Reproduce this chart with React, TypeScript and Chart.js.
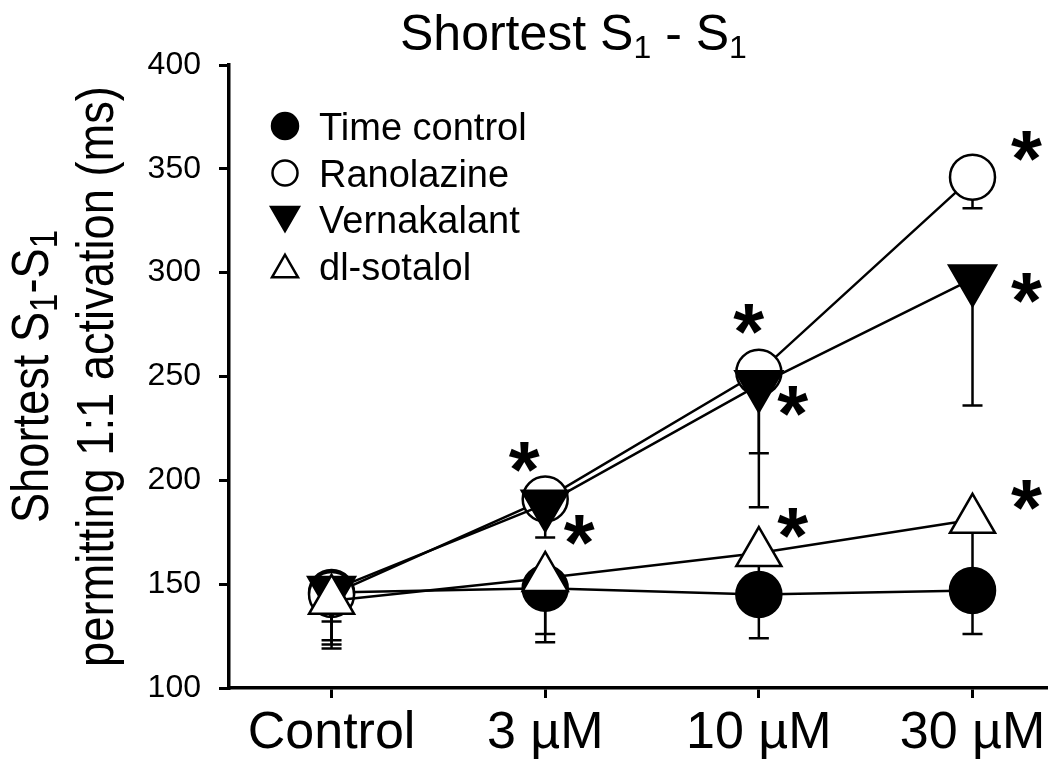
import React, { useEffect, useRef } from 'react';
import { Chart, registerables } from 'chart.js';

Chart.register(...registerables);

// ---------------- data ----------------
const categories = ['Control', '3 µM', '10 µM', '30 µM'];
const yTicks = [100, 150, 200, 250, 300, 350, 400];
const seriesNames = ['Time control', 'Ranolazine', 'Vernakalant', 'dl-sotalol'];

const timeControl = [146, 148, 145, 147];
const timeControlErr = [25, 22, 21, 21];
const ranolazine = [145, 191, 252, 346];
const ranolazineErr = [22, 6, 39, 15];
const vernakalant = [147, 188.5, 246, 297];
const vernakalantErr = [28, 16, 59, 61];
const sotalol = [142, 153, 165, 181];
const sotalolErr = [10, 31, 12, 30];

const timeControlSig = [false, false, false, false];
const ranolazineSig = [false, true, true, true];
const vernakalantSig = [false, true, true, true];
const sotalolSig = [false, false, true, true];

// ---------------- styles ----------------
const FONT = '"Liberation Sans", Arial, Helvetica, sans-serif';
// pixel offsets of the significance asterisks from their markers
const starOffsets: ([number, number] | null)[][] = [
  [null, null, null, null],
  [null, [-21, -42], [-10, -53], [54, -31]],
  [null, [34, 26], [34, 16], [54, 9]],
  [null, null, [34, -30], [54, -25]],
];

type Marker = { style: 'circle' | 'triangle'; rotation: number; radius: number; fill: string; legendRadius: number };
const markers: Marker[] = [
  { style: 'circle', rotation: 0, radius: 22.5, fill: '#000', legendRadius: 13 },
  { style: 'circle', rotation: 0, radius: 22.5, fill: '#fff', legendRadius: 12.5 },
  { style: 'triangle', rotation: 180, radius: 27, fill: '#000', legendRadius: 16 },
  { style: 'triangle', rotation: 0, radius: 26, fill: '#fff', legendRadius: 15 },
];

const seriesValues = [timeControl, ranolazine, vernakalant, sotalol];
const seriesErrors = [timeControlErr, ranolazineErr, vernakalantErr, sotalolErr];
const seriesSig = [timeControlSig, ranolazineSig, vernakalantSig, sotalolSig];

type Part = { t: string; sub?: boolean };

function drawRich(ctx: CanvasRenderingContext2D, parts: Part[], size: number, subSize: number, subShift: number, x: number, y: number, align: 'left' | 'center') {
  const fontMain = `${size}px ${FONT}`;
  const fontSub = `${subSize}px ${FONT}`;
  let total = 0;
  for (const p of parts) {
    ctx.font = p.sub ? fontSub : fontMain;
    total += ctx.measureText(p.t).width;
  }
  let cx = align === 'center' ? x - total / 2 : x;
  ctx.textBaseline = 'alphabetic';
  ctx.textAlign = 'left';
  for (const p of parts) {
    ctx.font = p.sub ? fontSub : fontMain;
    ctx.fillText(p.t, cx, p.sub ? y + subShift : y);
    cx += ctx.measureText(p.t).width;
  }
}

const errorBarPlugin = {
  id: 'errorBars',
  beforeDatasetsDraw(chart: any) {
    const ctx = chart.ctx as CanvasRenderingContext2D;
    const xs = chart.scales.x;
    const ys = chart.scales.y;
    ctx.save();
    ctx.strokeStyle = '#000';
    ctx.lineWidth = 2.5;
    seriesValues.forEach((vals, si) => {
      vals.forEach((v, i) => {
        const e = seriesErrors[si][i];
        const px = xs.getPixelForValue(i);
        const py = ys.getPixelForValue(v);
        const pl = ys.getPixelForValue(v - e);
        ctx.beginPath();
        ctx.moveTo(px, py);
        ctx.lineTo(px, pl);
        ctx.moveTo(px - 10, pl);
        ctx.lineTo(px + 10, pl);
        ctx.stroke();
      });
    });
    ctx.restore();
  },
};

const annotationPlugin = {
  id: 'annotations',
  afterDatasetsDraw(chart: any) {
    const ctx = chart.ctx as CanvasRenderingContext2D;
    const xs = chart.scales.x;
    const ys = chart.scales.y;
    ctx.save();
    ctx.fillStyle = '#000';
    // asterisks
    ctx.font = `bold 100px ${FONT}`;
    const m = ctx.measureText('*');
    const w100 = m.actualBoundingBoxLeft + m.actualBoundingBoxRight;
    const scale = 31 / w100;
    const size = 100 * scale;
    ctx.font = `bold ${size}px ${FONT}`;
    const mm = ctx.measureText('*');
    ctx.textAlign = 'left';
    ctx.textBaseline = 'alphabetic';
    seriesSig.forEach((sig, si) => {
      sig.forEach((s, i) => {
        const off = starOffsets[si][i];
        if (!s || !off) return;
        const cx = xs.getPixelForValue(i) + off[0];
        const cy = ys.getPixelForValue(seriesValues[si][i]) + off[1];
        const bw = mm.actualBoundingBoxRight + mm.actualBoundingBoxLeft;
        const bh = mm.actualBoundingBoxAscent + mm.actualBoundingBoxDescent;
        const x = cx - bw / 2 + mm.actualBoundingBoxLeft;
        const y = cy - bh / 2 + mm.actualBoundingBoxAscent;
        ctx.fillText('*', x, y);
      });
    });

    // legend
    const legX = 285;
    const textX = 319;
    const baselines = [140, 187, 233, 280];
    seriesNames.forEach((name, si) => {
      const mk = markers[si];
      const midY = baselines[si] - 14;
      ctx.save();
      ctx.lineWidth = 2.5;
      ctx.strokeStyle = '#000';
      ctx.fillStyle = mk.fill;
      ctx.beginPath();
      const r = mk.legendRadius;
      if (mk.style === 'circle') {
        ctx.arc(legX, midY, r, 0, Math.PI * 2);
      } else if (mk.rotation === 180) {
        const cy = midY - r * 0.25;
        ctx.moveTo(legX - r * 0.866, cy - r / 2);
        ctx.lineTo(legX + r * 0.866, cy - r / 2);
        ctx.lineTo(legX, cy + r);
        ctx.closePath();
      } else {
        const cy = midY + r * 0.25;
        ctx.moveTo(legX, cy - r);
        ctx.lineTo(legX + r * 0.866, cy + r / 2);
        ctx.lineTo(legX - r * 0.866, cy + r / 2);
        ctx.closePath();
      }
      ctx.fill();
      ctx.stroke();
      ctx.restore();
      ctx.fillStyle = '#000';
      ctx.font = `38px ${FONT}`;
      ctx.textAlign = 'left';
      ctx.textBaseline = 'alphabetic';
      ctx.fillText(name, textX, baselines[si]);
    });
    ctx.restore();
  },
  afterDraw(chart: any) {
    const ctx = chart.ctx as CanvasRenderingContext2D;
    ctx.save();
    ctx.fillStyle = '#000';
    // title
    drawRich(ctx, [{ t: 'Shortest S' }, { t: '1', sub: true }, { t: ' - S' }, { t: '1', sub: true }], 50, 32, 8, 400, 50, 'left');
    // y axis title (two lines, rotated, condensed)
    const ys = chart.scales.y;
    const midY = (ys.top + ys.bottom) / 2;
    const lines: { parts: Part[]; x: number; sub: number }[] = [
      { parts: [{ t: 'Shortest S' }, { t: '1', sub: true }, { t: '-S' }, { t: '1', sub: true }], x: 48, sub: 38 },
      { parts: [{ t: 'permitting 1:1 activation (ms)' }], x: 113, sub: 34 },
    ];
    lines.forEach((ln) => {
      ctx.save();
      ctx.translate(ln.x, midY);
      ctx.rotate(-Math.PI / 2);
      ctx.scale(0.87, 1);
      drawRich(ctx, ln.parts, 52, ln.sub, 9, 0, 0, 'center');
      ctx.restore();
    });
    ctx.restore();
  },
};

export default function App() {
  const canvasRef = useRef<HTMLCanvasElement | null>(null);

  useEffect(() => {
    const canvas = canvasRef.current;
    if (!canvas) return;
    const datasets = seriesNames.map((name, si) => ({
      label: name,
      data: seriesValues[si].map((v, i) => ({ x: i, y: v })),
      borderColor: '#000',
      borderWidth: 2.5,
      backgroundColor: markers[si].fill,
      pointStyle: markers[si].style,
      pointRotation: markers[si].rotation,
      pointRadius: markers[si].radius,
      pointHoverRadius: markers[si].radius,
      pointBackgroundColor: markers[si].fill,
      pointBorderColor: '#000',
      pointBorderWidth: 2.5,
      tension: 0,
      fill: false,
      clip: false as any,
      order: 4 - si,
    }));

    const chart = new Chart(canvas, {
      type: 'line',
      data: { datasets },
      options: {
        responsive: false,
        animation: false,
        devicePixelRatio: 1,
        events: [],
        layout: { autoPadding: false, padding: { top: 65, right: 4, left: 0, bottom: 0 } },
        plugins: {
          legend: { display: false },
          tooltip: { enabled: false },
          title: { display: false },
        },
        scales: {
          x: {
            type: 'linear',
            min: -0.48,
            max: 3.344,
            afterBuildTicks: (s: any) => {
              s.ticks = categories.map((_, i) => ({ value: i }));
            },
            afterFit: (s: any) => {
              s.height = 77;
              s.paddingLeft = 0;
              s.paddingRight = 0;
            },
            grid: { display: true, drawOnChartArea: false, drawTicks: true, tickLength: 10, color: '#000', lineWidth: 3 },
            border: { display: true, color: '#000', width: 3.5 },
            ticks: {
              callback: (v: any) => categories[Math.round(Number(v))] ?? '',
              font: { family: FONT, size: 52 },
              color: '#000',
              padding: 4,
              maxRotation: 0,
              autoSkip: false,
            },
          },
          y: {
            type: 'linear',
            min: 100,
            max: 400,
            afterBuildTicks: (s: any) => {
              s.ticks = yTicks.map((v) => ({ value: v }));
            },
            afterFit: (s: any) => {
              s.width = 229;
              s.paddingTop = 0;
              s.paddingBottom = 0;
            },
            grid: { display: true, drawOnChartArea: false, drawTicks: true, tickLength: 10, color: '#000', lineWidth: 3 },
            border: { display: true, color: '#000', width: 3.5 },
            ticks: {
              font: { family: FONT, size: 32 },
              color: '#000',
              padding: 18,
            },
          },
        },
      },
      plugins: [errorBarPlugin, annotationPlugin],
    });
    return () => chart.destroy();
  }, []);

  return (
    <div style={{ position: 'fixed', left: 0, top: 0, width: 1050, height: 765, background: '#fff' }}>
      <canvas ref={canvasRef} width={1050} height={765} style={{ width: 1050, height: 765, display: 'block' }} />
    </div>
  );
}
